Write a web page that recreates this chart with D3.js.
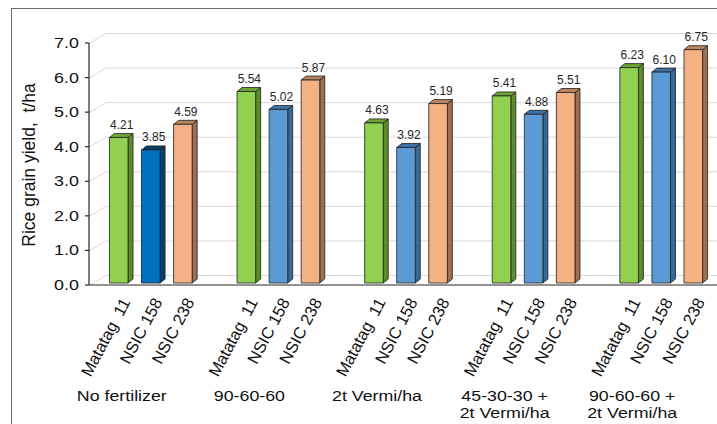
<!DOCTYPE html>
<html><head><meta charset="utf-8">
<script src="https://cdn.jsdelivr.net/npm/d3@7"></script>
<style>
html,body{margin:0;padding:0;background:#fff;}
svg{display:block;font-family:"Liberation Sans",Arial,sans-serif;}
</style></head>
<body>
<svg id="chart" width="717" height="424"></svg>
<script>
const groups = ["No fertilizer", "90-60-60", "2t Vermi/ha", "45-30-30 +|2t Vermi/ha", "90-60-60 +|2t Vermi/ha"];
const varieties = ["Matatag\u00a0\u00a011", "NSIC 158", "NSIC 238"];
const matatag11 = [4.21, 5.54, 4.63, 5.41, 6.23];
const nsic158 = [3.85, 5.02, 3.92, 4.88, 6.10];
const nsic238 = [4.59, 5.87, 5.19, 5.51, 6.75];
const yTicks = [0, 1, 2, 3, 4, 5, 6, 7];
const yTitle = "Rice grain yield,\u00a0\u00a0t/ha";

const series = [matatag11, nsic158, nsic238];
const palette = [
  {front:"#92d050", side:"#5d8c28", top:"#6ea535"},
  {front:"#5b9bd5", side:"#3a6894", top:"#3f72a3"},
  {front:"#f4b183", side:"#9c6e52", top:"#b98560"}
];
const darkBlue = {front:"#0070c0", side:"#04426f", top:"#03406c"};

const svg = d3.select("#chart");
const W = 717, H = 424;
const axisX = 89;
const depthX = 17, depthY = -10;   // back wall offset
const barDX = 5, barDY = -4;       // bar depth

const y = d3.scaleLinear().domain([0, 7]).range([285, 43]);
const x0 = d3.scaleBand().domain(groups).range([87, 725]).padding(0);
const x1 = d3.scaleBand().domain(varieties).range([0, x0.bandwidth()])
  .paddingInner(0.42).paddingOuter(0.7);

// frame
svg.append("rect").attr("x", 11.5).attr("y", 8.5).attr("width", W + 20).attr("height", H + 20)
  .attr("fill", "none").attr("stroke", "#6b6b6b").attr("stroke-width", 1);

// gridlines (3D)
const grid = svg.append("g").attr("fill", "none").attr("stroke", "#d9d9d9").attr("stroke-width", 1);
yTicks.forEach(t => {
  const yy = y(t);
  grid.append("path").attr("d",
    `M${axisX},${yy + 0.5}L${axisX + depthX},${yy + depthY + 0.5}L${W},${yy + depthY + 0.5}`);
});

// bars
const bars = svg.append("g");
groups.forEach((g, gi) => {
  varieties.forEach((v, si) => {
    const val = series[si][gi];
    const c = (gi === 0 && si === 1) ? darkBlue : palette[si];
    const bx = x0(g) + x1(v);
    const bw = x1.bandwidth();
    const y0b = y(0) - 2, yt = y(val) - 2;
    const bar = bars.append("g").attr("stroke", "#1f1f1f").attr("stroke-width", 0.8).attr("stroke-linejoin", "round");
    bar.append("path").attr("fill", c.side).attr("d",
      `M${bx + bw},${y0b}L${bx + bw + barDX},${y0b + barDY}L${bx + bw + barDX},${yt + barDY}L${bx + bw},${yt}Z`);
    bar.append("path").attr("fill", c.top).attr("d",
      `M${bx},${yt}L${bx + barDX},${yt + barDY}L${bx + bw + barDX},${yt + barDY}L${bx + bw},${yt}Z`);
    bar.append("rect").attr("fill", c.front).attr("x", bx).attr("y", yt).attr("width", bw).attr("height", y0b - yt);
    svg.append("text").attr("x", bx + bw / 2 + 3).attr("y", yt - 8.5)
      .attr("text-anchor", "middle").attr("font-size", 12).attr("fill", "#262626")
      .text(val.toFixed(2));
    // category label
    svg.append("text")
      .attr("transform", `translate(${bx + bw / 2 + 12},${302}) rotate(-62)`)
      .attr("text-anchor", "end").attr("font-size", 16.5).attr("fill", "#111")
      .text(v);
  });
  const lines = g.split("|");
  lines.forEach((ln, li) => {
    svg.append("text")
      .attr("transform", `translate(${x0(g) + x0.bandwidth() / 2 - 29},${401 + li * 17}) scale(1.27,1)`)
      .attr("text-anchor", "middle").attr("font-size", 14).attr("fill", "#111")
      .text(ln);
  });
});

// axes
const axisG = svg.append("g").attr("stroke", "#262626").attr("stroke-width", 1.2).attr("fill", "none");
axisG.append("path").attr("d", `M${axisX},${y(7)}L${axisX},${y(0)}`);
axisG.append("path").attr("d", `M${axisX},${y(0)}L${W},${y(0)}`);
yTicks.forEach(t => {
  axisG.append("path").attr("d", `M${axisX - 4},${y(t)}L${axisX},${y(t)}`);
  svg.append("text")
    .attr("transform", `translate(79,${y(t) + 5}) scale(1.28,1)`)
    .attr("text-anchor", "end").attr("font-size", 14).attr("fill", "#111")
    .text(t.toFixed(1));
});

// y title
svg.append("text")
  .attr("transform", `translate(35,${165}) rotate(-90)`)
  .attr("text-anchor", "middle").attr("font-size", 17.5).attr("fill", "#111")
  .text(yTitle);
</script>
</body></html>
